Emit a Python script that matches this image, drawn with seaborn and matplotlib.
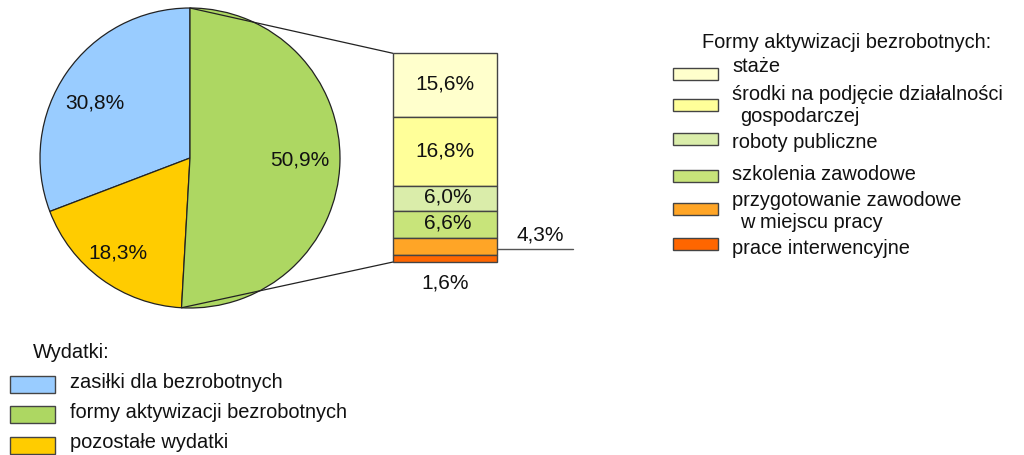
import numpy as np
import matplotlib
matplotlib.use("Agg")
import matplotlib.pyplot as plt
from matplotlib.patches import Rectangle
import seaborn as sns

# ---------------- data ----------------
wydatki_labels = ["zasiłki dla bezrobotnych", "formy aktywizacji bezrobotnych", "pozostałe wydatki"]
wydatki_values = [30.8, 50.9, 18.3]
wydatki_colors = ["#99CCFF", "#ADD762", "#FFCC00"]

formy_labels = [
    ["staże"],
    ["środki na podjęcie działalności", "gospodarczej"],
    ["roboty publiczne"],
    ["szkolenia zawodowe"],
    ["przygotowanie zawodowe", "w miejscu pracy"],
    ["prace interwencyjne"],
]
formy_values = [15.6, 16.8, 6.0, 6.6, 4.3, 1.6]
formy_colors = ["#FFFFCC", "#FFFF99", "#DAEDAA", "#C8E47A", "#FFA526", "#FF6600"]

legend_title_right = "Formy aktywizacji bezrobotnych:"
legend_title_bottom = "Wydatki:"


def fmt(v):
    return f"{v:.1f}%".replace(".", ",")


# ---------------- style ----------------
sns.set_theme(style="white")
plt.rcParams["font.family"] = ["Liberation Sans", "DejaVu Sans"]
FS = 15
FSL = 14.4
TXT = "#111111"
EDGE = "#444444"

W, H = 1024, 455
fig = plt.figure(figsize=(W / 100, H / 100), dpi=100)
ax = fig.add_axes([0, 0, 1, 1])


def Y(py):
    return H - py


# ---------------- pie ----------------
cx, cy, r = 190, Y(158), 150
pie_order = [0, 2, 1]  # blue, yellow, green counter-clockwise from top
pie_vals = [wydatki_values[i] for i in pie_order]
pie_cols = [wydatki_colors[i] for i in pie_order]
ax.pie(pie_vals, colors=pie_cols, startangle=90, counterclock=True,
       center=(cx, cy), radius=r, frame=True,
       wedgeprops=dict(edgecolor="#222222", linewidth=0.9))

# pie labels
ax.text(95, Y(103), fmt(wydatki_values[0]), ha="center", va="center", fontsize=FS, color=TXT)
ax.text(300, Y(160), fmt(wydatki_values[1]), ha="center", va="center", fontsize=FS, color=TXT)
ax.text(118, Y(253), fmt(wydatki_values[2]), ha="center", va="center", fontsize=FS, color=TXT)

# ---------------- stacked bar ----------------
bx, bw = 445, 104
b_bottom = Y(262)
scale = 4.1
heights = [v * scale for v in formy_values]
bottoms = []
acc = b_bottom
for h in reversed(heights):
    bottoms.append(acc)
    acc += h
bottoms = bottoms[::-1]
b_top = acc
for h, b, c in zip(heights, bottoms, formy_colors):
    ax.bar(bx, h, width=bw, bottom=b, color=c, edgecolor=EDGE, linewidth=1.0, zorder=3)

for i in range(4):
    ax.text(bx + (3 if i >= 2 else 0), bottoms[i] + heights[i] / 2 + 1, fmt(formy_values[i]),
            ha="center", va="center", fontsize=FS, color=TXT, zorder=4)

# 4,3% label with leader line
ly = bottoms[4] + heights[4] * 0.35
ax.plot([bx + bw / 2, 573], [ly, ly], color="#555555", lw=1.0, zorder=2)
ax.text(540, ly + 5, fmt(formy_values[4]), ha="center", va="bottom", fontsize=FS, color=TXT)
# 1,6% label below bar
ax.text(bx, Y(283), fmt(formy_values[5]), ha="center", va="center", fontsize=FS, color=TXT)

# connector lines from green wedge edges to bar corners
frac_before = (wydatki_values[0] + wydatki_values[2]) / 100.0
a_start = np.deg2rad(90 + frac_before * 360)
a_end = np.deg2rad(90 + 360)
p_top = (cx + r * np.cos(a_end), cy + r * np.sin(a_end))
p_bot = (cx + r * np.cos(a_start), cy + r * np.sin(a_start))
ax.plot([p_top[0], bx - bw / 2], [p_top[1], b_top], color="#222222", lw=0.9, zorder=1)
ax.plot([p_bot[0], bx - bw / 2], [p_bot[1], b_bottom], color="#222222", lw=0.9, zorder=1)

# ---------------- right legend ----------------
ax.text(702, Y(43), legend_title_right, ha="left", va="center", fontsize=FSL, color=TXT)
patch_tops = [68, 99, 133, 170, 203, 238]
text_ys = [[67], [95, 117], [143], [175], [200, 222], [248]]
for lab, c, pt, tys in zip(formy_labels, formy_colors, patch_tops, text_ys):
    ax.add_patch(Rectangle((673, Y(pt + 12)), 45, 12, facecolor=c, edgecolor=EDGE, lw=1.0))
    for j, (line, ty) in enumerate(zip(lab, tys)):
        ax.text(732 if j == 0 else 740, Y(ty), line, ha="left", va="center",
                fontsize=FSL, color=TXT)

# ---------------- bottom legend ----------------
ax.text(33, Y(352), legend_title_bottom, ha="left", va="center", fontsize=FSL, color=TXT)
b_patch_tops = [376, 406, 437]
b_text_ys = [383, 413, 443]
for lab, c, pt, ty in zip(wydatki_labels, wydatki_colors, b_patch_tops, b_text_ys):
    ax.add_patch(Rectangle((10, Y(pt + 17)), 45, 17, facecolor=c, edgecolor=EDGE, lw=1.0))
    ax.text(70, Y(ty), lab, ha="left", va="center", fontsize=FSL, color=TXT)

ax.set_xlim(0, W)
ax.set_ylim(0, H)
ax.set_aspect("auto")
ax.axis("off")

fig.savefig("out.png", dpi=100, facecolor="white")
